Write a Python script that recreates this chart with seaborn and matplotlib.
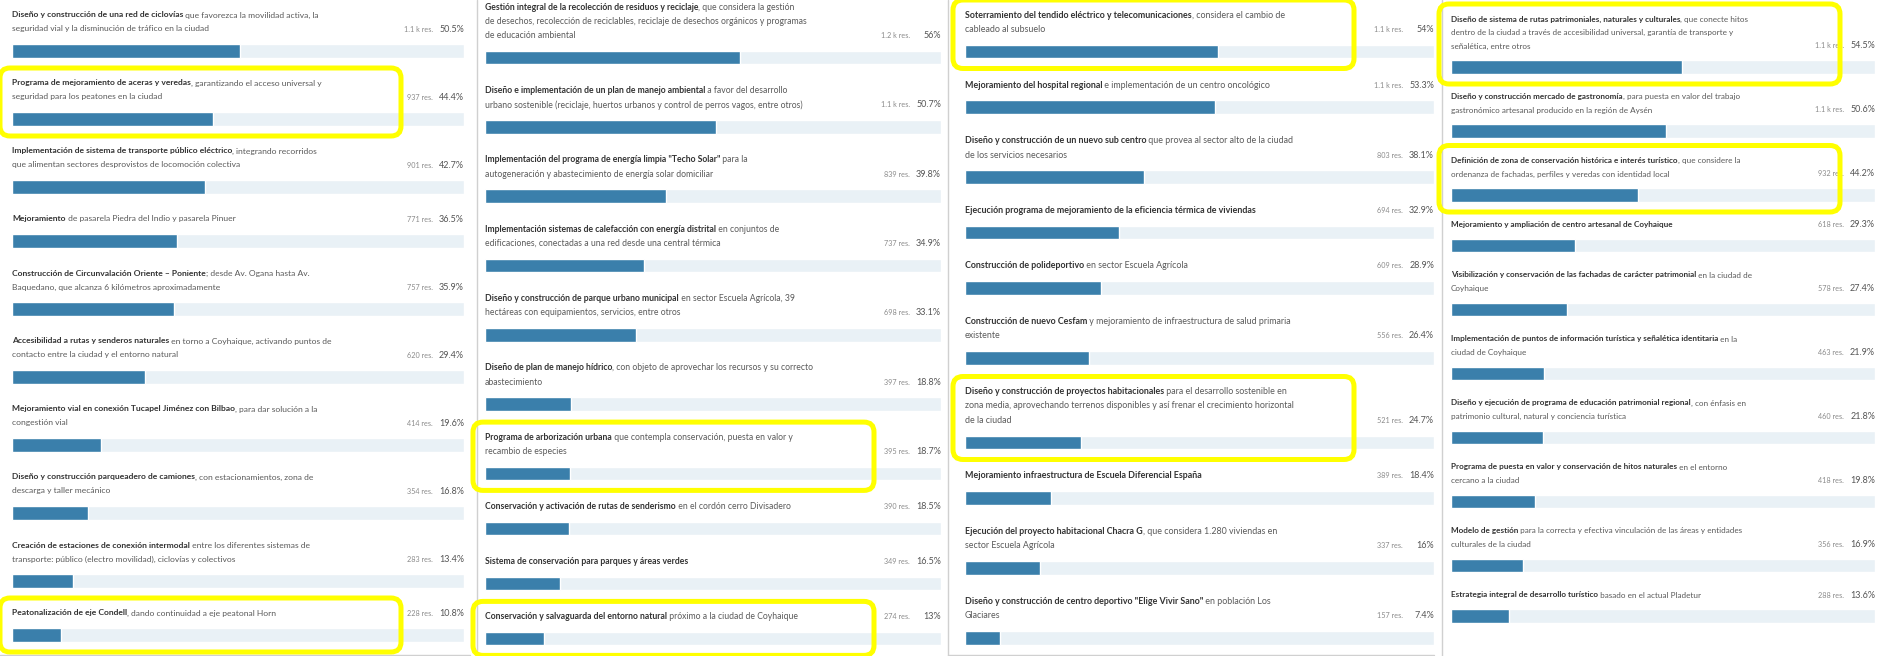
import matplotlib.pyplot as plt
import seaborn as sns
import pandas as pd
from matplotlib import transforms
from matplotlib.patches import FancyBboxPatch

# --- datos: cuatro columnas de propuestas (titulo en negrita + resto del texto)
c1_bold = ["Diseño y construcción de una red de ciclovías",
           "Programa de mejoramiento de aceras y veredas",
           "Implementación de sistema de transporte público eléctrico",
           "Mejoramiento",
           "Construcción de Circunvalación Oriente – Poniente",
           "Accesibilidad a rutas y senderos naturales",
           "Mejoramiento vial en conexión Tucapel Jiménez con Bilbao",
           "Diseño y construcción parqueadero de camiones",
           "Creación de estaciones de conexión intermodal",
           "Peatonalización de eje Condell"]
c1_rest = [" que favorezca la movilidad activa, la\nseguridad vial y la disminución de tráfico en la ciudad",
           ", garantizando el acceso universal y\nseguridad para los peatones en la ciudad",
           ", integrando recorridos\nque alimentan sectores desprovistos de locomoción colectiva",
           " de pasarela Piedra del Indio y pasarela Pinuer",
           "; desde Av. Ogana hasta Av.\nBaquedano, que alcanza 6 kilómetros aproximadamente",
           " en torno a Coyhaique, activando puntos de\ncontacto entre la ciudad y el entorno natural",
           ", para dar solución a la\ncongestión vial",
           ", con estacionamientos, zona de\ndescarga y taller mecánico",
           " entre los diferentes sistemas de\ntransporte: público (electro movilidad), ciclovías y colectivos",
           ", dando continuidad a eje peatonal Horn"]
c1_resp = [1066, 937, 901, 771, 757, 620, 414, 354, 283, 228]
c1_pct = [50.5, 44.4, 42.7, 36.5, 35.9, 29.4, 19.6, 16.8, 13.4, 10.8]
c1_mark = [False, True, False, False, False, False, False, False, False, True]

c2_bold = ["Gestión integral de la recolección de residuos y reciclaje",
           "Diseño e implementación de un plan de manejo ambiental",
           "Implementación del programa de energía limpia \"Techo Solar\"",
           "Implementación sistemas de calefacción con energía distrital",
           "Diseño y construcción de parque urbano municipal",
           "Diseño de plan de manejo hídrico",
           "Programa de arborización urbana",
           "Conservación y activación de rutas de senderismo",
           "Sistema de conservación para parques y áreas verdes",
           "Conservación y salvaguarda del entorno natural"]
c2_rest = [", que considera la gestión\nde desechos, recolección de reciclables, reciclaje de desechos orgánicos y programas\nde educación ambiental",
           " a favor del desarrollo\nurbano sostenible (reciclaje, huertos urbanos y control de perros vagos, entre otros)",
           " para la\nautogeneración y abastecimiento de energía solar domiciliar",
           " en conjuntos de\nedificaciones, conectadas a una red desde una central térmica",
           " en sector Escuela Agrícola, 39\nhectáreas con equipamientos, servicios, entre otros",
           ", con objeto de aprovechar los recursos y su correcto\nabastecimiento",
           " que contempla conservación, puesta en valor y\nrecambio de especies",
           " en el cordón cerro Divisadero",
           "",
           " próximo a la ciudad de Coyhaique"]
c2_resp = [1182, 1070, 839, 737, 698, 397, 395, 390, 349, 274]
c2_pct = [56, 50.7, 39.8, 34.9, 33.1, 18.8, 18.7, 18.5, 16.5, 13]
c2_mark = [False, False, False, False, False, False, True, False, False, True]

c3_bold = ["Soterramiento del tendido eléctrico y telecomunicaciones",
           "Mejoramiento del hospital regional",
           "Diseño y construcción de un nuevo sub centro",
           "Ejecución programa de mejoramiento de la eficiencia térmica de viviendas",
           "Construcción de polideportivo",
           "Construcción de nuevo Cesfam",
           "Diseño y construcción de proyectos habitacionales",
           "Mejoramiento infraestructura de Escuela Diferencial España",
           "Ejecución del proyecto habitacional Chacra G",
           "Diseño y construcción de centro deportivo \"Elige Vivir Sano\""]
c3_rest = [", considera el cambio de\ncableado al subsuelo",
           " e implementación de un centro oncológico",
           " que provea al sector alto de la ciudad\nde los servicios necesarios",
           "",
           " en sector Escuela Agrícola",
           " y mejoramiento de infraestructura de salud primaria\nexistente",
           " para el desarrollo sostenible en\nzona media, aprovechando terrenos disponibles y así frenar el crecimiento horizontal\nde la ciudad",
           "",
           ", que considera 1.280 viviendas en\nsector Escuela Agrícola",
           " en población Los\nGlaciares"]
c3_resp = [1139, 1125, 803, 694, 609, 556, 521, 389, 337, 157]
c3_pct = [54, 53.3, 38.1, 32.9, 28.9, 26.4, 24.7, 18.4, 16, 7.4]
c3_mark = [True, False, False, False, False, False, True, False, False, False]

c4_bold = ["Diseño de sistema de rutas patrimoniales, naturales y culturales",
           "Diseño y construcción mercado de gastronomía",
           "Definición de zona de conservación histórica e interés turístico",
           "Mejoramiento y ampliación de centro artesanal de Coyhaique",
           "Visibilización y conservación de las fachadas de carácter patrimonial",
           "Implementación de puntos de información turística y señalética identitaria",
           "Diseño y ejecución de programa de educación patrimonial regional",
           "Programa de puesta en valor y conservación de hitos naturales",
           "Modelo de gestión",
           "Estrategia integral de desarrollo turístico"]
c4_rest = [", que conecte hitos\ndentro de la ciudad a través de accesibilidad universal, garantía de transporte y\nseñalética, entre otros",
           ", para puesta en valor del trabajo\ngastronómico artesanal producido en la región de Aysén",
           ", que considere la\nordenanza de fachadas, perfiles y veredas con identidad local",
           "",
           " en la ciudad de\nCoyhaique",
           " en la\nciudad de Coyhaique",
           ", con énfasis en\npatrimonio cultural, natural y conciencia turística",
           " en el entorno\ncercano a la ciudad",
           " para la correcta y efectiva vinculación de las áreas y entidades\nculturales de la ciudad",
           " basado en el actual Pladetur"]
c4_resp = [1150, 1068, 932, 618, 578, 463, 460, 418, 356, 288]
c4_pct = [54.5, 50.6, 44.2, 29.3, 27.4, 21.9, 21.8, 19.8, 16.9, 13.6]
c4_mark = [True, False, True, False, False, False, False, False, False, False]

columnas = [(c1_bold, c1_rest, c1_resp, c1_pct, c1_mark),
            (c2_bold, c2_rest, c2_resp, c2_pct, c2_mark),
            (c3_bold, c3_rest, c3_resp, c3_pct, c3_mark),
            (c4_bold, c4_rest, c4_resp, c4_pct, c4_mark)]

# --- diseño (pixeles)
W, H = 1882, 656
geo = [dict(left=12, right=464, y0=15, lh=14, off=22, gap=32, fs=6.1),
       dict(left=485, right=941, y0=7, lh=14.3, off=22, gap=33, fs=6.2),
       dict(left=965, right=1434, y0=15, lh=14.5, off=22, gap=33.5, fs=6.4),
       dict(left=1451, right=1875, y0=19, lh=13.5, off=21, gap=29.5, fs=5.9)]
AZUL = "#3a7fab"
PISTA = "#e9f1f6"
BAR_H = 13.5

sns.set_theme(style="white")
plt.rcParams['font.family'] = ['Lato', 'DejaVu Sans']

fig = plt.figure(figsize=(W / 100, H / 100), dpi=100)
fondo = fig.add_axes([0, 0, 1, 1])
fondo.set_xlim(0, W)
fondo.set_ylim(H, 0)
fondo.axis("off")
renderer = fig.canvas.get_renderer()


def posiciones(rest, g):
    tops, bars = [], []
    y = g["y0"]
    for r in rest:
        n = r.count("\n") + 1
        tops.append(y)
        b = y + (n - 1) * g["lh"] + g["off"]
        bars.append(b)
        y = b + g["gap"]
    return tops, bars


for (bold, rest, resp, pct, mark), g in zip(columnas, geo):
    tops, bars = posiciones(rest, g)
    ax = fig.add_axes([g["left"] / W, 0, (g["right"] - g["left"]) / W, 1])
    df = pd.DataFrame({"y": bars, "pct": pct})
    ax.barh(df["y"], 100, height=BAR_H, color=PISTA)
    paso = min(b - a for a, b in zip(bars[:-1], bars[1:]))
    sns.barplot(data=df, x="pct", y="y", orient="y", native_scale=True,
                width=BAR_H / paso, color=AZUL, saturation=1,
                errorbar=None, ax=ax)
    ax.set_xlim(0, 100)
    ax.set_ylim(H, 0)
    ax.axis("off")

    for i in range(len(bold)):
        lineas = rest[i].split("\n")
        t = ax.text(0, tops[i], bold[i], fontsize=g["fs"], fontweight="bold",
                    color="#333333", va="center", ha="left", clip_on=False)
        ancho = t.get_window_extent(renderer).width
        desplaza = transforms.offset_copy(ax.transData, fig=fig, x=ancho, y=0, units="dots")
        ax.text(0, tops[i], lineas[0], fontsize=g["fs"], color="#5a5a5a",
                va="center", ha="left", transform=desplaza, clip_on=False)
        for k, ln in enumerate(lineas[1:], start=1):
            ax.text(0, tops[i] + k * g["lh"], ln, fontsize=g["fs"], color="#5a5a5a",
                    va="center", ha="left", clip_on=False)
        ylast = bars[i] - g["off"]
        etiqueta = f"{resp[i] / 1000:.1f} k res." if resp[i] >= 1000 else f"{resp[i]} res."
        dx = transforms.offset_copy(ax.transData, fig=fig, x=-31, y=0, units="dots")
        ax.text(100, ylast, etiqueta, fontsize=5.2, color="#8a8a8a",
                va="center", ha="right", transform=dx, clip_on=False)
        ax.text(100, ylast, f"{pct[i]:g}%", fontsize=6.5, color="#555555",
                va="center", ha="right", clip_on=False)

        if mark[i]:
            y1 = tops[i] - 15
            y2 = bars[i] + 17
            caja = FancyBboxPatch((g["left"] - 12, y1), 401, y2 - y1,
                                  boxstyle="round,pad=0,rounding_size=10",
                                  fill=False, edgecolor="#ffff00", linewidth=3.6,
                                  zorder=10)
            fondo.add_patch(caja)

# separadores del collage
for xs in [477, 948, 1442]:
    fondo.plot([xs, xs], [0, H], color="#d0d0d0", lw=1)
fondo.plot([0, 470], [655, 655], color="#d0d0d0", lw=1)
fondo.plot([948, 1434], [655, 655], color="#d0d0d0", lw=1)
fondo.set_zorder(5)
fondo.patch.set_alpha(0)

fig.savefig("out.png", dpi=100, facecolor="white")
